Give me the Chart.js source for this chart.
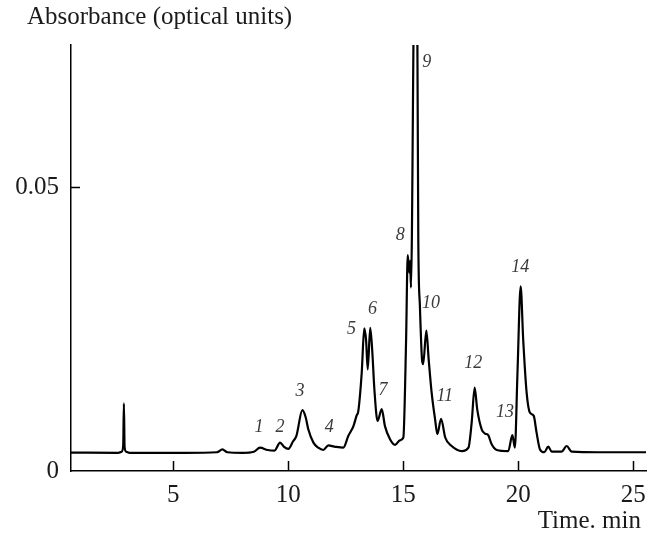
<!DOCTYPE html>
<html><head><meta charset="utf-8">
<script src="https://cdn.jsdelivr.net/npm/chart.js@4/dist/chart.umd.min.js"></script>
<style>html,body{margin:0;padding:0;background:#fff}#wrap{width:648px;height:533px}</style>
</head><body><div id="wrap"><canvas id="c" width="648" height="533"></canvas></div>
<script>
const times = [0.55, 2.6, 2.75, 2.82, 2.85, 2.88, 2.95, 3.1, 5.5, 6.9, 7.13, 7.35, 8.0, 8.5, 8.77, 9.1, 9.4, 9.64, 9.8, 10.0, 10.2, 10.35, 10.61, 10.75, 10.87, 11.09, 11.3, 11.52, 11.74, 12.0, 12.39, 12.61, 12.83, 12.97, 13.04, 13.19, 13.3, 13.38, 13.45, 13.56, 13.65, 13.74, 13.88, 14.06, 14.2, 14.42, 14.64, 14.85, 15.0, 15.12, 15.19, 15.26, 15.3, 15.33, 15.46, 15.53, 15.60, 15.65, 15.72, 15.81, 15.86, 16.0, 16.1, 16.23, 16.38, 16.48, 16.64, 16.82, 17.1, 17.54, 17.83, 17.97, 18.1, 18.21, 18.41, 18.55, 18.69, 18.84, 19.06, 19.56, 19.74, 19.85, 19.96, 20.1, 20.21, 20.36, 20.5, 20.67, 20.79, 20.94, 21.13, 21.3, 21.45, 21.88, 22.1, 22.32, 23.5, 25.55];
const absorbance = [0.00325, 0.0032, 0.0034, 0.0045, 0.0119, 0.0042, 0.0034, 0.0032, 0.0032, 0.0033, 0.0038, 0.0033, 0.0032, 0.0034, 0.0041, 0.0037, 0.0036, 0.0050, 0.0043, 0.0039, 0.0052, 0.0062, 0.0107, 0.0095, 0.0073, 0.0050, 0.0041, 0.0037, 0.0045, 0.0043, 0.0041, 0.0062, 0.0079, 0.0098, 0.0105, 0.0173, 0.0251, 0.0230, 0.0179, 0.0252, 0.0210, 0.0144, 0.0088, 0.0109, 0.0079, 0.0056, 0.0046, 0.0054, 0.0059, 0.0232, 0.0380, 0.0349, 0.0370, 0.0323, 0.085, 0.110, 0.085, 0.0408, 0.0290, 0.0197, 0.0188, 0.0247, 0.0197, 0.0138, 0.0091, 0.0065, 0.0092, 0.0059, 0.0044, 0.0035, 0.0041, 0.0085, 0.0147, 0.0109, 0.0073, 0.0066, 0.0063, 0.0047, 0.0037, 0.0035, 0.0063, 0.0041, 0.0170, 0.0325, 0.0232, 0.0138, 0.0103, 0.0097, 0.0068, 0.0038, 0.0033, 0.0043, 0.0034, 0.0034, 0.0044, 0.0034, 0.0033, 0.0033];
const xTicks = [5, 10, 15, 20, 25];
const yTicks = [0, 0.05];
const peakLabels = ['1','2','3','4','5','6','7','8','9','10','11','12','13','14'];
const labelTimes = [8.72, 9.64, 10.51, 11.78, 12.75, 13.66, 14.12, 14.87, 16.02, 16.2, 16.8, 18.04, 19.42, 20.08];
const labelAbs = [0.0077, 0.0077, 0.0141, 0.0077, 0.0250, 0.0285, 0.0143, 0.0415, 0.0720, 0.0295, 0.0131, 0.0190, 0.0103, 0.0359];
const yTitle = 'Absorbance (optical units)';
const xTitle = 'Time. min';

const annot = {
  id: 'annot',
  afterDraw(chart) {
    const {ctx, chartArea, scales} = chart;
    const xs = scales.x, ys = scales.y;
    ctx.save();
    ctx.strokeStyle = '#000';
    ctx.lineWidth = 1.5;
    ctx.beginPath();
    xTicks.forEach(v => {
      const px = Math.round(xs.getPixelForValue(v)) + 0.5;
      ctx.moveTo(px, chartArea.bottom);
      ctx.lineTo(px, chartArea.bottom - 10);
    });
    yTicks.filter(v => v !== 0).forEach(v => {
      const py = Math.round(ys.getPixelForValue(v)) + 0.5;
      ctx.moveTo(chartArea.left, py);
      ctx.lineTo(chartArea.left + 9, py);
    });
    ctx.stroke();
    ctx.fillStyle = '#3a3a3a';
    ctx.font = 'italic 18px "Liberation Serif"';
    ctx.textAlign = 'center';
    ctx.textBaseline = 'middle';
    peakLabels.forEach((t, i) => {
      ctx.fillText(t, xs.getPixelForValue(labelTimes[i]), ys.getPixelForValue(labelAbs[i]));
    });
    ctx.fillStyle = '#1a1a1a';
    ctx.font = '25px "Liberation Serif"';
    ctx.textAlign = 'left';
    ctx.fillText(yTitle, 27, 17);
    ctx.textAlign = 'right';
    ctx.fillText(xTitle, 641, 521);
    ctx.restore();
  }
};

new Chart(document.getElementById('c'), {
  type: 'line',
  data: {
    datasets: [{
      data: times.map((t, i) => ({x: t, y: absorbance[i]})),
      borderColor: '#000',
      borderWidth: 2.2,
      pointRadius: 0,
      cubicInterpolationMode: 'monotone',
      fill: false
    }]
  },
  options: {
    responsive: false,
    animation: false,
    plugins: {legend: {display: false}, tooltip: {enabled: false}},
    layout: {padding: {top: 45, right: 2, left: 0, bottom: 0}},
    scales: {
      x: {
        type: 'linear', min: 0.55, max: 25.55,
        afterBuildTicks: s => { s.ticks = xTicks.map(v => ({value: v})); },
        grid: {display: false, drawTicks: false},
        border: {display: true, color: '#000', width: 1.5},
        ticks: {padding: 9, font: {family: 'Liberation Serif', size: 25}, color: '#1a1a1a', maxRotation: 0, autoSkip: false, callback: v => String(v)},
        afterFit: s => { s.height = 62; s.paddingRight = 0; s.paddingLeft = 0; }
      },
      y: {
        type: 'linear', min: 0, max: 0.075,
        afterBuildTicks: s => { s.ticks = yTicks.map(v => ({value: v})); },
        grid: {display: false, drawTicks: false},
        border: {display: true, color: '#000', width: 1.5},
        ticks: {padding: 12, font: {family: 'Liberation Serif', size: 25}, color: '#1a1a1a', autoSkip: false, callback: v => String(v)},
        afterFit: s => { s.width = 71; s.paddingTop = 0; s.paddingBottom = 0; }
      }
    }
  },
  plugins: [annot]
});
</script>
</body></html>
